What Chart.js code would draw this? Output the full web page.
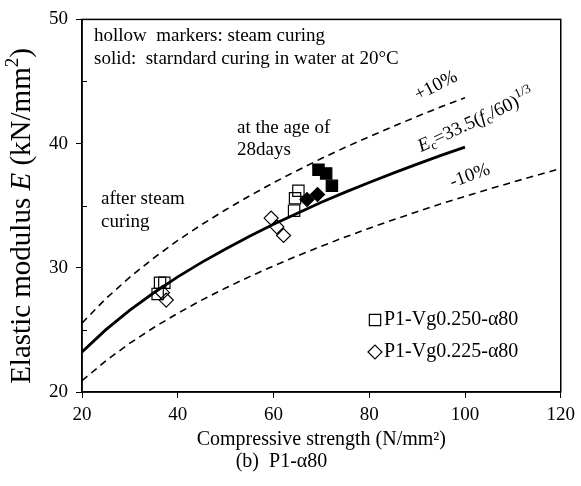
<!DOCTYPE html>
<html>
<head>
<meta charset="utf-8">
<script src="https://cdn.jsdelivr.net/npm/chart.js@4/dist/chart.umd.min.js"></script>
<style>
  html, body { margin: 0; padding: 0; background: #fff; }
  #wrap { width: 581px; height: 486px; }
</style>
</head>
<body>
<div id="wrap"><canvas id="chart" width="581" height="486"></canvas></div>
<script>
// ================= DATA =================
// Ec = 33.5(fc/60)^(1/3) and the +/-10% bands
const fcMain = [20, 25, 30, 35, 40, 45, 50, 55, 60, 65, 70, 75, 80, 85, 90, 95, 100];
const ecMain = [23.23, 25.02, 26.59, 27.99, 29.27, 30.44, 31.52, 32.54, 33.5, 34.40, 35.27, 36.09, 36.87, 37.62, 38.35, 39.05, 39.72];

const fcUpper = [20, 25, 30, 35, 40, 45, 50, 55, 60, 65, 70, 75, 80, 85, 90, 95, 100];
const ecUpper = [25.55, 27.52, 29.25, 30.79, 32.20, 33.48, 34.67, 35.79, 36.85, 37.84, 38.80, 39.70, 40.56, 41.38, 42.19, 42.96, 43.69];

const fcLower = [20, 25, 30, 35, 40, 45, 50, 55, 60, 65, 70, 75, 80, 85, 90, 95, 100, 105, 110, 115, 120];
const ecLower = [20.91, 22.52, 23.93, 25.19, 26.34, 27.40, 28.37, 29.29, 30.15, 30.96, 31.74, 32.48, 33.18, 33.86, 34.52, 35.15, 35.75, 36.33, 36.90, 37.45, 37.99];

// P1-Vg0.250-a80 (squares)
const vg250SteamFc = [36.3, 37.2, 35.8, 65.2, 64.5, 64.3];
const vg250SteamE  = [28.8, 28.8, 27.9, 36.2, 35.6, 34.6];
const vg250WaterFc = [69.4, 71.0, 72.2];
const vg250WaterE  = [37.9, 37.6, 36.6];

// P1-Vg0.225-a80 (diamonds)
const vg225SteamFc = [36.8, 37.6, 59.5, 60.7, 62.1];
const vg225SteamE  = [28.0, 27.4, 34.0, 33.3, 32.6];
const vg225WaterFc = [67.0, 69.2];
const vg225WaterE  = [35.5, 35.9];

const xTicks = [20, 40, 60, 80, 100, 120];
const yTicks = [20, 30, 40, 50];
const yMinorTicks = [25, 35, 45];

const legendLabels = ["P1-Vg0.250-\u03b180", "P1-Vg0.225-\u03b180"];

// ================= HELPERS =================
const SERIF = "'Liberation Serif', 'Times New Roman', serif";

function pts(xs, ys) {
  return xs.map((x, i) => ({ x: x, y: ys[i] }));
}

function lineSet(xs, ys, dashed, width) {
  return {
    data: pts(xs, ys),
    showLine: true,
    borderColor: "#000",
    borderWidth: width,
    borderDash: dashed ? [7, 5] : [],
    pointRadius: 0,
    tension: 0,
    fill: false
  };
}

function markerSet(xs, ys, style, solid, r) {
  return {
    data: pts(xs, ys),
    showLine: false,
    pointStyle: style,
    pointRadius: r,
    pointBorderWidth: 1.2,
    pointBorderColor: "#000",
    pointBackgroundColor: solid ? "#000" : "rgba(0,0,0,0)"
  };
}

// draws a run of text pieces (mixed fonts) centred on the current origin
function drawRun(ctx, parts) {
  let total = 0;
  parts.forEach(p => { ctx.font = p.f; p.w = ctx.measureText(p.t).width; total += p.w; });
  ctx.textAlign = "left";
  let cx = -total / 2;
  parts.forEach(p => { ctx.font = p.f; ctx.fillText(p.t, cx, p.dy); cx += p.w; });
}

// ================= DECORATION =================
const decor = {
  id: "decor",
  afterDraw(chart) {
    const ctx = chart.ctx;
    const a = chart.chartArea;
    const ys = chart.scales.y;
    ctx.save();

    // frame
    ctx.strokeStyle = "#000";
    ctx.lineWidth = 1.5;
    ctx.strokeRect(a.left, a.top, a.right - a.left, a.bottom - a.top);

    // minor ticks inside on y
    ctx.lineWidth = 1;
    yMinorTicks.forEach(v => {
      const py = Math.round(ys.getPixelForValue(v)) + 0.5;
      ctx.beginPath();
      ctx.moveTo(a.left, py);
      ctx.lineTo(a.left + 5, py);
      ctx.stroke();
    });

    ctx.fillStyle = "#000";
    ctx.textBaseline = "middle";

    // y axis title with italic E
    ctx.save();
    ctx.translate(22, 216);
    ctx.rotate(-Math.PI / 2);
    drawRun(ctx, [
      { t: "Elastic modulus ", f: "29px " + SERIF, dy: 0 },
      { t: "E", f: "italic 29px " + SERIF, dy: 0 },
      { t: " (kN/mm", f: "29px " + SERIF, dy: 0 },
      { t: "2", f: "19px " + SERIF, dy: -9 },
      { t: ")", f: "29px " + SERIF, dy: 0 }
    ]);
    ctx.restore();

    // notes
    ctx.textAlign = "left";
    ctx.font = "19px " + SERIF;
    ctx.fillText("hollow  markers: steam curing", 94, 36);
    ctx.fillText("solid:  starndard curing in water at 20\u00b0C", 94, 59);
    ctx.fillText("at the age of", 237, 128);
    ctx.fillText("28days", 237, 150);
    ctx.fillText("after steam", 101, 199);
    ctx.fillText("curing", 101, 222);

    // rotated labels
    ctx.save();
    ctx.translate(436, 86);
    ctx.rotate(-27 * Math.PI / 180);
    ctx.textAlign = "center";
    ctx.fillText("+10%", 0, 0);
    ctx.restore();

    ctx.save();
    ctx.translate(470, 176);
    ctx.rotate(-20 * Math.PI / 180);
    ctx.textAlign = "center";
    ctx.fillText("-10%", 0, 0);
    ctx.restore();

    // Ec = 33.5(fc/60)^1/3
    ctx.save();
    ctx.translate(476, 121);
    ctx.rotate(-25 * Math.PI / 180);
    drawRun(ctx, [
      { t: "E", f: "italic 19px " + SERIF, dy: 0 },
      { t: "c", f: "13px " + SERIF, dy: 5 },
      { t: "=33.5(", f: "19px " + SERIF, dy: 0 },
      { t: "f", f: "italic 19px " + SERIF, dy: 0 },
      { t: "c", f: "13px " + SERIF, dy: 5 },
      { t: "/60)", f: "19px " + SERIF, dy: 0 },
      { t: "1/3", f: "13px " + SERIF, dy: -7 }
    ]);
    ctx.restore();

    // legend
    const items = [chart.data.datasets[3], chart.data.datasets[5]];
    const ly = [320, 352];
    items.forEach((ds, i) => {
      ctx.fillStyle = "#fff";
      ctx.strokeStyle = "#000";
      ctx.lineWidth = 1.2;
      Chart.helpers.drawPoint(ctx, {
        pointStyle: ds.pointStyle,
        radius: ds.pointRadius,
        borderWidth: 1.2,
        rotation: 0
      }, 375, ly[i]);
      ctx.fillStyle = "#000";
      ctx.font = "20px " + SERIF;
      ctx.textAlign = "left";
      ctx.fillText(legendLabels[i], 384, ly[i]);
    });

    ctx.restore();
  }
};

// ================= CHART =================
const ctx = document.getElementById("chart").getContext("2d");

const chart = new Chart(ctx, {
  type: "scatter",
  data: {
    datasets: [
      lineSet(fcUpper, ecUpper, true, 1.6),
      lineSet(fcLower, ecLower, true, 1.6),
      lineSet(fcMain, ecMain, false, 2.8),
      markerSet(vg250SteamFc, vg250SteamE, "rect", false, 8),
      markerSet(vg250WaterFc, vg250WaterE, "rect", true, 8),
      markerSet(vg225SteamFc, vg225SteamE, "rectRot", false, 7),
      markerSet(vg225WaterFc, vg225WaterE, "rectRot", true, 7)
    ]
  },
  options: {
    responsive: false,
    animation: false,
    layout: { padding: { top: 19, right: 18, left: 0, bottom: 0 } },
    plugins: {
      legend: { display: false },
      tooltip: { enabled: false },
      title: {
        display: true,
        position: "bottom",
        text: "(b)  P1-\u03b180",
        color: "#000",
        font: { family: SERIF, size: 20, weight: "normal", lineHeight: 1 },
        padding: { top: 0, bottom: 14 }
      }
    },
    scales: {
      x: {
        type: "linear",
        min: 20,
        max: 120,
        afterFit: s => { s.height = 60; },
        afterBuildTicks: s => { s.ticks = xTicks.map(v => ({ value: v })); },
        ticks: { color: "#000", font: { family: SERIF, size: 19 }, padding: 6 },
        grid: { drawOnChartArea: false, drawTicks: true, tickLength: 6, color: "#000", lineWidth: 1 },
        border: { display: true, color: "#000", width: 1.5 },
        title: {
          display: true,
          text: "Compressive strength (N/mm\u00b2)",
          color: "#000",
          font: { family: SERIF, size: 20, lineHeight: 1 },
          padding: { top: 0, bottom: 2 }
        }
      },
      y: {
        type: "linear",
        min: 20,
        max: 50,
        afterFit: s => { s.width = 82; },
        afterBuildTicks: s => { s.ticks = yTicks.map(v => ({ value: v })); },
        ticks: { color: "#000", font: { family: SERIF, size: 19 }, padding: 8 },
        grid: { drawOnChartArea: false, drawTicks: true, tickLength: 6, color: "#000", lineWidth: 1 },
        border: { display: true, color: "#000", width: 1.5 },
        title: { display: false }
      }
    }
  },
  plugins: [decor]
});
</script>
</body>
</html>
